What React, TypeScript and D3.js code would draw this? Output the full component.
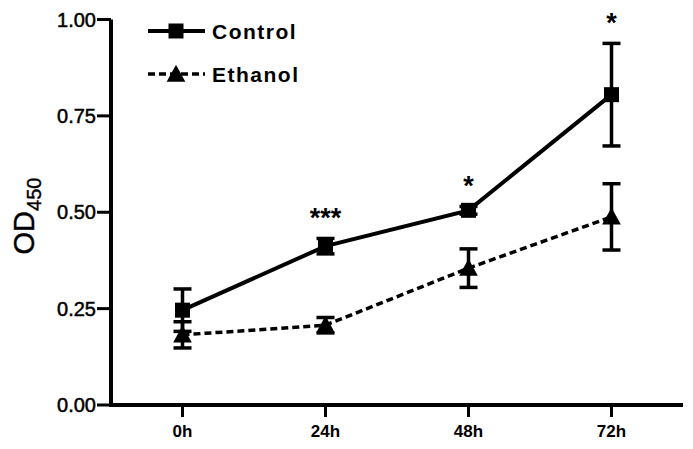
import React from "react";
import * as d3 from "d3";

const timepoints = ["0h", "24h", "48h", "72h"];
const controlMean = [0.246, 0.412, 0.505, 0.805];
const controlErr = [0.055, 0.02, 0.01, 0.133];
const ethanolMean = [0.182, 0.207, 0.355, 0.488];
const ethanolErr = [0.034, 0.02, 0.05, 0.086];
const significance = ["", "***", "*", "*"];
const yTicks = [0, 0.25, 0.5, 0.75, 1.0];

const W = 693, H = 449;
const left = 111, right = 683, top = 19.5, bottom = 405;

export default function App() {
  const x = d3.scalePoint<string>().domain(timepoints).range([left, right]).padding(0.5);
  const y = d3.scaleLinear().domain([0, 1]).range([bottom, top]);
  const line = d3.line<number>().x((_, i) => x(timepoints[i])!).y((d) => y(d));
  const font = "'Liberation Sans', Arial, sans-serif";
  const sq = 15;
  const tri = (cx: number, cy: number, s: number) =>
    `M${cx},${cy - s * 0.55} L${cx + s * 0.55},${cy + s * 0.45} L${cx - s * 0.55},${cy + s * 0.45} Z`;
  const cap = 9;

  const errBars = (means: number[], errs: number[]) =>
    means.map((m, i) => {
      const cx = x(timepoints[i])!;
      return (
        <g key={i} stroke="#000" strokeWidth={3.5}>
          <line x1={cx} x2={cx} y1={y(m + errs[i])} y2={y(m - errs[i])} />
          <line x1={cx - cap} x2={cx + cap} y1={y(m + errs[i])} y2={y(m + errs[i])} />
          <line x1={cx - cap} x2={cx + cap} y1={y(m - errs[i])} y2={y(m - errs[i])} />
        </g>
      );
    });

  return (
    <svg width={W} height={H} style={{ position: "absolute", left: 0, top: 0, background: "#fff" }}>
      <rect width={W} height={H} fill="#fff" />
      {/* axes */}
      <line x1={left} x2={left} y1={top} y2={bottom} stroke="#000" strokeWidth={4} />
      <line x1={left - 2} x2={right} y1={bottom} y2={bottom} stroke="#000" strokeWidth={4} />
      {yTicks.map((t) => (
        <g key={t}>
          <line x1={left - 14} x2={left} y1={y(t)} y2={y(t)} stroke="#000" strokeWidth={3} />
          <text x={left - 15} y={y(t)} dy="0.36em" textAnchor="end" fontFamily={font} fontSize={20} stroke="#000" strokeWidth={0.5}>
            {d3.format(".2f")(t)}
          </text>
        </g>
      ))}
      {timepoints.map((t) => (
        <g key={t}>
          <line x1={x(t)!} x2={x(t)!} y1={bottom} y2={bottom + 12} stroke="#000" strokeWidth={3} />
          <text x={x(t)!} y={437} textAnchor="middle" fontFamily={font} fontSize={17} fontWeight="bold">
            {t}
          </text>
        </g>
      ))}
      <text transform={`translate(34,${216}) rotate(-90)`} textAnchor="middle" fontFamily={font} fontSize={29} stroke="#000" strokeWidth={0.4}>
        OD<tspan fontSize={20} dy={7}>450</tspan>
      </text>

      {/* series */}
      <path d={line(controlMean)!} fill="none" stroke="#000" strokeWidth={4} />
      <path d={line(ethanolMean)!} fill="none" stroke="#000" strokeWidth={3.5} strokeDasharray="7,4" />
      {errBars(controlMean, controlErr)}
      {errBars(ethanolMean, ethanolErr)}
      {controlMean.map((m, i) => (
        <rect key={i} x={x(timepoints[i])! - sq / 2} y={y(m) - sq / 2} width={sq} height={sq} fill="#000" />
      ))}
      {ethanolMean.map((m, i) => (
        <path key={i} d={tri(x(timepoints[i])!, y(m), 17)} fill="#000" />
      ))}
      {significance.map((s, i) =>
        s ? (
          <text key={i} x={x(timepoints[i])!} y={y(controlMean[i] + controlErr[i]) - 11} textAnchor="middle" fontFamily={font} fontSize={27} fontWeight="bold">
            {s}
          </text>
        ) : null
      )}

      {/* legend */}
      <g>
        <line x1={148} x2={205} y1={31} y2={31} stroke="#000" strokeWidth={4} />
        <rect x={176 - sq / 2} y={31 - sq / 2} width={sq} height={sq} fill="#000" />
        <text x={212} y={31} dy="0.36em" fontFamily={font} fontSize={21} fontWeight="bold" letterSpacing={1.5}>Control</text>
        <line x1={148} x2={205} y1={74} y2={74} stroke="#000" strokeWidth={3.5} strokeDasharray="7,4" />
        <path d={tri(176, 74, 17)} fill="#000" />
        <text x={212} y={74} dy="0.36em" fontFamily={font} fontSize={21} fontWeight="bold" letterSpacing={1.5}>Ethanol</text>
      </g>
    </svg>
  );
}
